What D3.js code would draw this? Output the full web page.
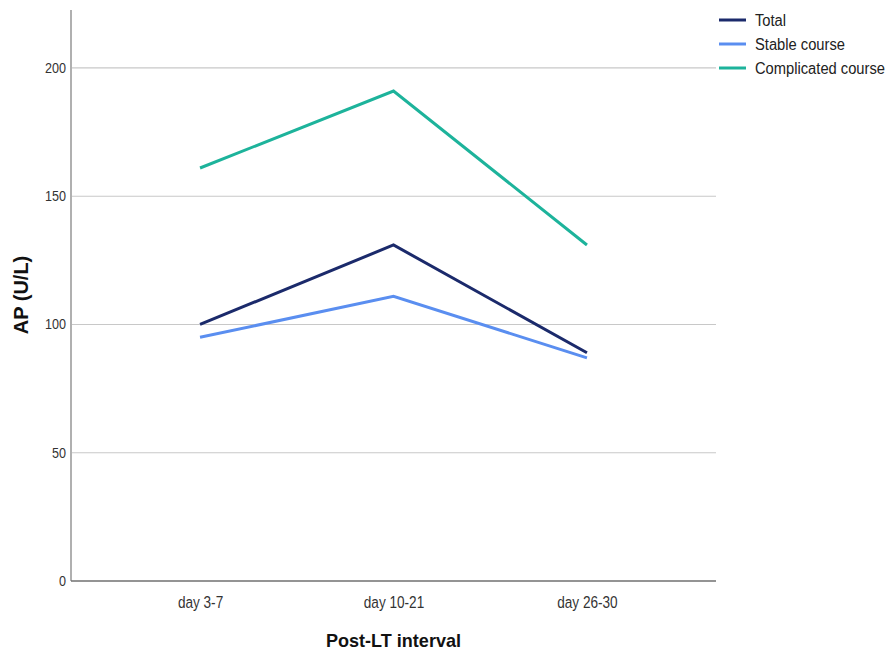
<!DOCTYPE html>
<html>
<head>
<meta charset="utf-8">
<script src="https://cdn.jsdelivr.net/npm/d3@7"></script>
<style>
  body { margin: 0; background: #fff; }
  svg { display: block; }
</style>
</head>
<body>
<svg id="chart" width="888" height="653"></svg>
<script>
const categories = ["day 3-7", "day 10-21", "day 26-30"];
const seriesNames = ["Total", "Stable course", "Complicated course"];
const totalValues = [100, 131, 89];
const stableValues = [95, 111, 87];
const complicatedValues = [161, 191, 131];
const yTicks = [0, 50, 100, 150, 200];
const colors = ["#1b2a6b", "#5a8ef0", "#1db39b"];

(function () {
const series = [
  { name: seriesNames[0], values: totalValues, color: colors[0] },
  { name: seriesNames[1], values: stableValues, color: colors[1] },
  { name: seriesNames[2], values: complicatedValues, color: colors[2] }
];

const svg = d3.select("#chart");
const mLeft = 71, mRight = 716, mTop = 10, mBottom = 581;
const font = "'Liberation Sans', Arial, sans-serif";

const x = d3.scalePoint().domain(categories).range([mLeft, mRight]).padding(0.667);
const y = d3.scaleLinear().domain([0, 222.6]).range([mBottom, mTop]);

// gridlines
svg.append("g").selectAll("line").data(yTicks.filter(d => d > 0)).join("line")
  .attr("x1", mLeft).attr("x2", mRight)
  .attr("y1", d => y(d)).attr("y2", d => y(d))
  .attr("stroke", "#c8c8c8").attr("stroke-width", 1.2);

// y axis
const yAxis = svg.append("g").attr("transform", `translate(${mLeft},0)`)
  .call(d3.axisLeft(y).tickValues(yTicks).tickSize(0).tickPadding(5));
yAxis.select(".domain").attr("stroke", "#b0b0b0").attr("stroke-width", 2)
  .attr("d", `M0,${mTop}V${mBottom}`);
yAxis.selectAll("text").attr("font-family", font).attr("font-size", 14).attr("fill", "#333")
  .attr("transform", "scale(0.9,1)").attr("x", -5 / 0.9);

// x axis
const xAxis = svg.append("g").attr("transform", `translate(0,${mBottom})`)
  .call(d3.axisBottom(x).tickSize(0).tickPadding(15));
xAxis.select(".domain").attr("stroke", "#707070").attr("stroke-width", 1.5)
  .attr("d", `M${mLeft},0H${mRight}`);
xAxis.selectAll("text").attr("font-family", font).attr("font-size", 17).attr("fill", "#333")
  .attr("transform", "scale(0.8,1)");

// lines
const line = d3.line().x((d, i) => x(categories[i])).y(d => y(d));
svg.append("g").selectAll("path").data(series).join("path")
  .attr("d", d => line(d.values))
  .attr("fill", "none")
  .attr("stroke", d => d.color)
  .attr("stroke-width", 3)
  .attr("stroke-linejoin", "miter");

// axis titles
svg.append("text")
  .attr("transform", `translate(28,295) rotate(-90)`)
  .attr("text-anchor", "middle")
  .attr("font-family", font)
  .attr("font-weight", "bold").attr("font-size", 20).attr("fill", "#111")
  .text("AP (U/L)");

svg.append("text")
  .attr("transform", `translate(${(mLeft + mRight) / 2},647) scale(0.95,1)`)
  .attr("text-anchor", "middle")
  .attr("font-family", font)
  .attr("font-weight", "bold").attr("font-size", 19).attr("fill", "#111")
  .text("Post-LT interval");

// legend
const legend = svg.append("g").attr("transform", "translate(719,20)");
const items = legend.selectAll("g").data(series).join("g")
  .attr("transform", (d, i) => `translate(0,${i * 24})`);
items.append("line").attr("x1", 0).attr("x2", 27).attr("y1", 0).attr("y2", 0)
  .attr("stroke", d => d.color).attr("stroke-width", 3);
items.append("text").attr("transform", "translate(36,6) scale(0.92,1)")
  .attr("font-family", font).attr("font-size", 16).attr("fill", "#222")
  .text(d => d.name);
})();
</script>
</body>
</html>
